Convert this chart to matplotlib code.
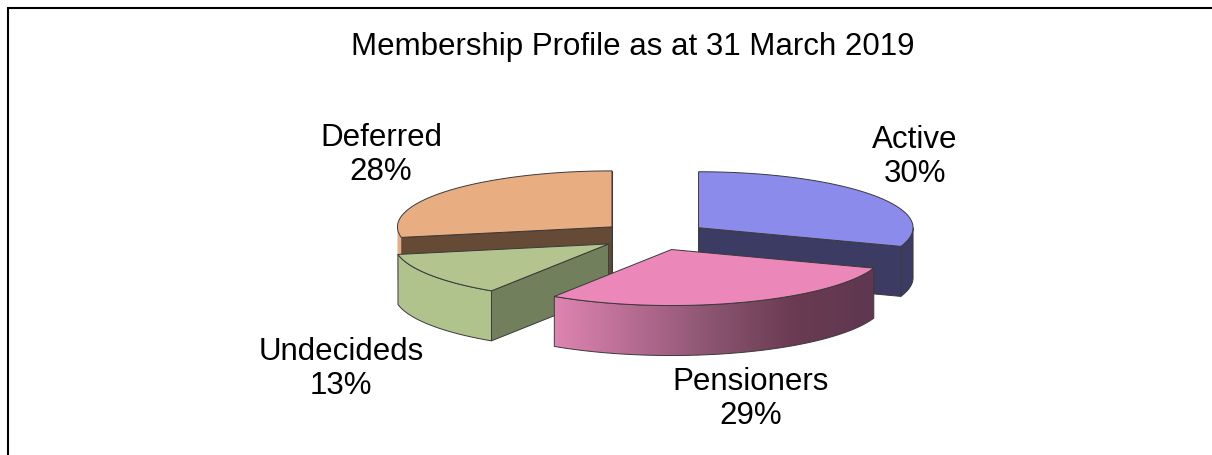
"""Exploded pseudo-3D pie chart of the membership profile."""

import numpy as np
import matplotlib
matplotlib.use("Agg")
import matplotlib.pyplot as plt
from matplotlib.colors import LinearSegmentedColormap
from matplotlib.patches import Polygon

TITLE = "Membership Profile as at 31 March 2019"
categories = ["Active", "Pensioners", "Undecideds", "Deferred"]
shares = [30.4, 28.8, 12.8, 28.0]  # labels show these rounded

# Chart styling
TOP_COLORS = ["#8B8BEB", "#EC87B9", "#B3C48E", "#E8AE82"]
WALL_COLORS = ["#3B3B63", "#6A3B52", "#727F5C", "#654A36"]
RIM_COLORS = ["#3B3B63", None, "#B1C38C", "#E8AE82"]
PENSIONER_RIM = ["#5F3750", "#6A3B52", "#8A5470", "#B56B92", "#DE85B1"]
EDGE = "#3A3A3A"
FONT_SIZE = 22.5
LABEL_POS = [(915, 157), (751, 399), (341, 369), (381, 155)]

# Pie geometry, in pixels
CX, CY = 654, 237
RX, RY = 214.5, 56
DEPTH = 50
EXPLODE = 0.255


def project(apex, deg, radius=1.0, rx=RX):
    """Angle clockwise from 12 o'clock to a point on the top ellipse."""
    rad = np.radians(deg)
    return apex[0] + radius * rx * np.sin(rad), apex[1] - radius * RY * np.cos(rad)


def arc(apex, a0, a1, n=120):
    return np.array([project(apex, d) for d in np.linspace(a0, a1, n)])


def rim_poly(apex, a0, a1):
    top = arc(apex, a0, a1)
    bottom = top[::-1] + [0, DEPTH]
    return np.vstack([top, bottom])


fig = plt.figure(figsize=(12.12, 4.56), dpi=100)
ax = fig.add_axes([0, 0, 1, 1])
ax.set_xlim(0, 1212)
ax.set_ylim(456, 0)
ax.axis("off")

# Frame only shows on the left and top
ax.plot([8, 8, 1212], [456, 9, 9], color="black", lw=1.5, solid_joinstyle="miter", clip_on=False)

# Slice angles from the shares
edges = np.concatenate([[0], np.cumsum(shares)]) * 360.0 / sum(shares)
slices = {}
for i, name in enumerate(categories):
    a0, a1 = edges[i], edges[i + 1]
    mid = (a0 + a1) / 2
    apex = project((CX, CY), mid, EXPLODE, rx=214)
    slices[name] = (i, apex, a0, a1)

# Back slices first, front slices last
for name in ["Deferred", "Active", "Undecideds", "Pensioners"]:
    i, apex, a0, a1 = slices[name]
    z = {"Deferred": 1, "Active": 2, "Undecideds": 3, "Pensioners": 4}[name]

    # radial walls that face the viewer
    if name == "Deferred":
        wall_angles = [a0, a1]
    elif name == "Active":
        wall_angles = [a1]
    elif name == "Undecideds":
        wall_angles = [a0]
    else:
        wall_angles = []
    for ang in wall_angles:
        end = project(apex, ang)
        pts = [apex, end, (end[0], end[1] + DEPTH), (apex[0], apex[1] + DEPTH)]
        ax.add_patch(Polygon(pts, closed=True, fc=WALL_COLORS[i], ec=EDGE, lw=0.7, zorder=z))

    # outer rim, only the part on the front of the ellipse
    r0, r1 = max(a0, 90), min(a1, 270)
    if r1 > r0:
        poly = rim_poly(apex, r0, r1)
        if name == "Pensioners":
            cmap = LinearSegmentedColormap.from_list("rim", PENSIONER_RIM)
            grad = np.linspace(0, 1, 256).reshape(1, -1)
            im = ax.imshow(
                grad,
                cmap=cmap,
                aspect="auto",
                extent=[poly[:, 0].max(), poly[:, 0].min(), poly[:, 1].max(), poly[:, 1].min()],
                zorder=z,
            )
            outline = Polygon(poly, closed=True, fc="none", ec=EDGE, lw=0.7, zorder=z)
            ax.add_patch(outline)
            im.set_clip_path(outline)
        elif name == "Deferred":
            # mostly hidden behind the Undecideds slice, no outline here
            ax.add_patch(Polygon(poly, closed=True, fc=RIM_COLORS[i], ec="none", zorder=z))
        else:
            ax.add_patch(Polygon(poly, closed=True, fc=RIM_COLORS[i], ec=EDGE, lw=0.7, zorder=z))

    # top face
    top = np.vstack([[apex], arc(apex, a0, a1)])
    ax.add_patch(Polygon(top, closed=True, fc=TOP_COLORS[i], ec=EDGE, lw=0.7, zorder=z))

ax.set_xlim(0, 1212)
ax.set_ylim(456, 0)

plt.rcParams["font.family"] = ["Liberation Sans", "DejaVu Sans"]
ax.text(633, 47, TITLE, ha="center", va="center", fontsize=FONT_SIZE, color="black")
for name, share, (x, y) in zip(categories, shares, LABEL_POS):
    ax.text(x, y, f"{name}\n{share:.0f}%", ha="center", va="center", fontsize=FONT_SIZE,
            color="black", linespacing=1.16, zorder=10)

fig.savefig("out.png", dpi=100, facecolor="white")
plt.close(fig)
